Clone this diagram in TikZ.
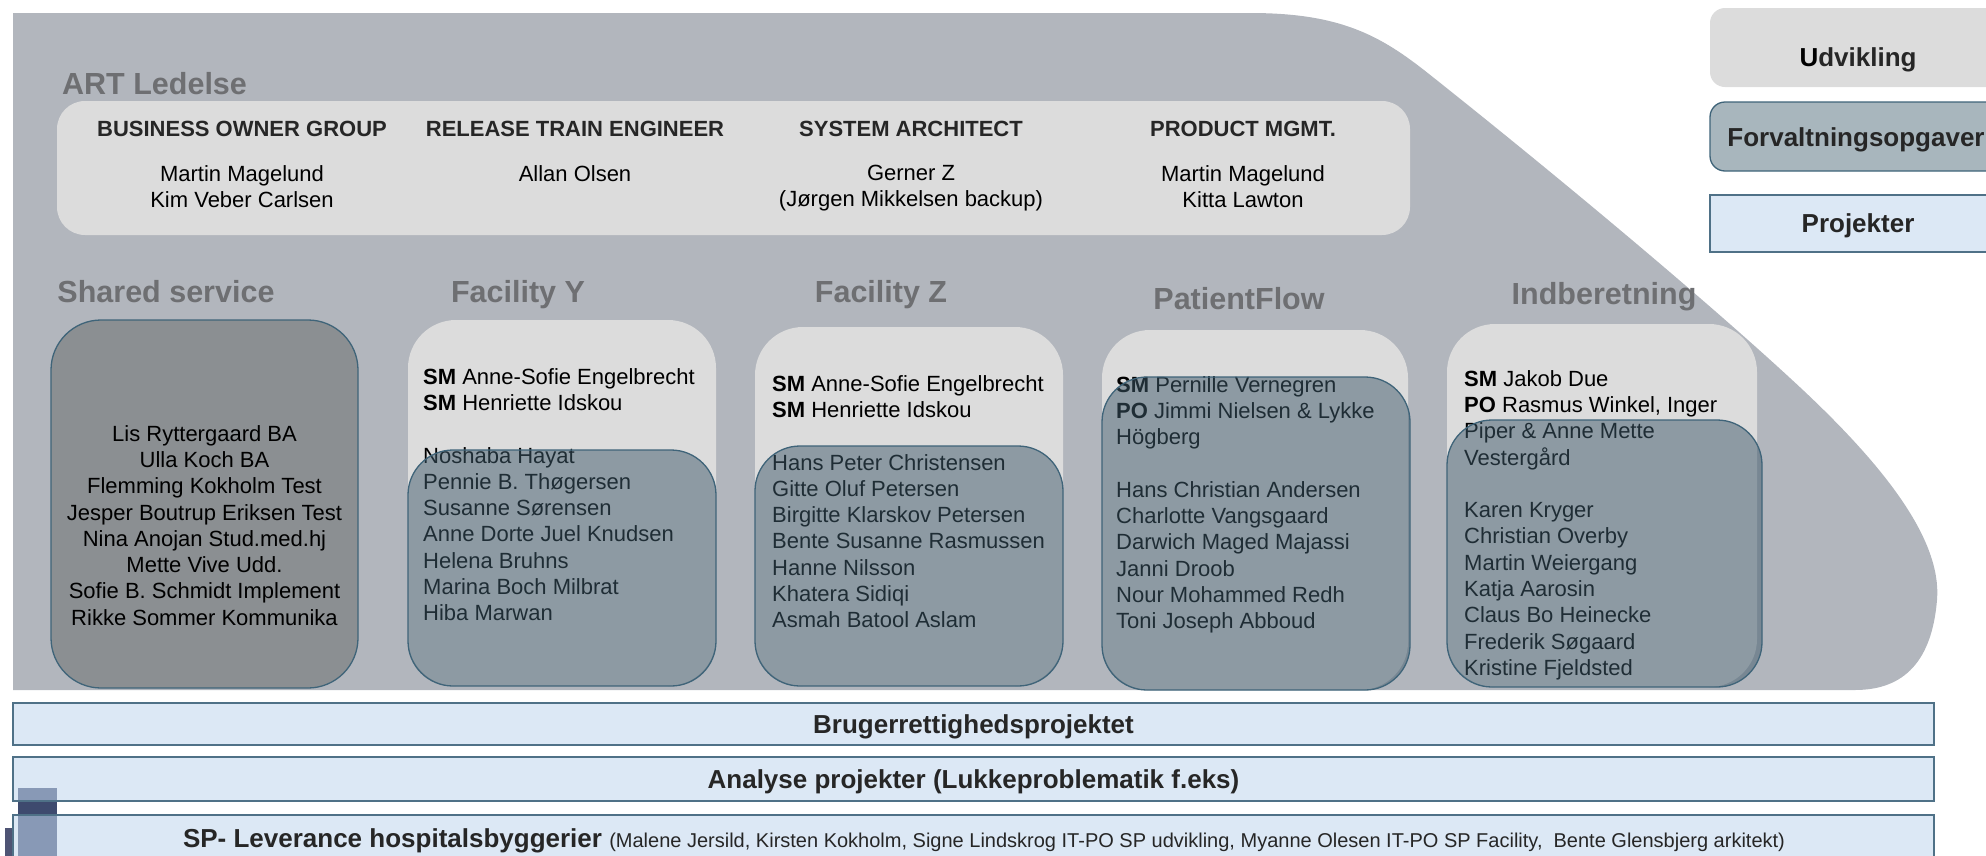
\documentclass[tikz,border=0pt]{standalone}
\usepackage{fontspec}
\setmainfont{Liberation Sans}

\definecolor{train}{HTML}{B2B6BD}
\definecolor{pale}{HTML}{DCDCDC}
\definecolor{team}{HTML}{3F5A6B}
\definecolor{rim}{HTML}{3F6479}
\definecolor{shared}{HTML}{8B8F92}
\definecolor{proj}{HTML}{C1D6ED}
\definecolor{projrim}{HTML}{4F7187}
\definecolor{heading}{HTML}{6E6F72}
\definecolor{navy}{HTML}{3E4A6E}
\definecolor{navytwo}{HTML}{4E5474}
\definecolor{forv}{HTML}{A8B6BD}
\definecolor{legproj}{HTML}{DCE8F5}

\begin{document}
\begin{tikzpicture}[x=1pt, y=-1pt,
  pale box/.style={fill=pale, rounded corners=48pt, inner sep=0pt},
  team box/.style={fill=team, fill opacity=0.5, draw=rim, line width=1.3pt, rounded corners=45pt, inner sep=0pt},
  bar/.style={fill=proj, fill opacity=0.57, draw=projrim, line width=1.3pt, inner sep=0pt, minimum width=1921pt},
  sec/.style={font=\bfseries\fontsize{30.5}{36}\selectfont, text=heading, inner sep=0pt, anchor=base},
  role/.style={font=\bfseries\fontsize{22}{26.3}\selectfont, text=black!85, inner sep=0pt, anchor=base},
  who/.style={font=\fontsize{22}{26.3}\selectfont, align=center, inner sep=0pt, anchor=north},
  crew/.style={font=\fontsize{22}{26.3}\selectfont, align=left, inner sep=0pt, anchor=north west},
  tag/.style={font=\bfseries\fontsize{26}{30}\selectfont, text=black!85, inner sep=0pt, anchor=base}]

\useasboundingbox (0,0) rectangle (1986,855);
\clip (0,0) rectangle (1986,855);

% the train
\fill[train] (13,13) -- (1250,13) .. controls (1340,13) and (1380,35) .. (1429,74)
  .. controls (1550,170) and (1700,295) .. (1790,378)
  .. controls (1885,465) and (1942,540) .. (1937,600)
  .. controls (1932,660) and (1905,690) .. (1855,690) -- (13,690) -- cycle;

% ART Ledelse
\node[sec, anchor=base west] (artT) at (62,94) {ART Ledelse};
\node[fill=pale, rounded corners=28pt, inner sep=0pt, minimum width=1353pt, minimum height=134pt] (art) at (733.5,168) {};
\node[role] (bo) at (242,136) {BUSINESS OWNER GROUP};
\node[role] (rte) at (575,136) {RELEASE TRAIN ENGINEER};
\node[role] (sa) at (911,136) {SYSTEM ARCHITECT};
\node[role] (pm) at (1243,136) {PRODUCT MGMT.};
\node[who] (boN) at (242,165) {Martin Magelund\\Kim Veber Carlsen};
\node[who] (rteN) at (575,165) {Allan Olsen};
\node[who] (saN) at (911,165) {Gerner Z\\(Jørgen Mikkelsen backup)};
\node[who] (pmN) at (1243,165) {Martin Magelund\\Kitta Lawton};

% teams
\node[sec] (ssT) at (166,302) {Shared service};
\node[sec] (fyT) at (518,302) {Facility Y};
\node[sec] (fzT) at (881,302) {Facility Z};
\node[sec] (pfT) at (1239,309) {PatientFlow};
\node[sec] (inT) at (1604,304) {Indberetning};

\node[fill=shared, draw=rim, line width=1.3pt, rounded corners=50pt, inner sep=0pt,
  minimum width=307pt, minimum height=368pt] (ss) at (204.5,504) {};
\node[who] (ssN) at (204.5,425) {Lis Ryttergaard BA\\Ulla Koch BA\\Flemming Kokholm Test\\Jesper Boutrup Eriksen Test\\Nina Anojan Stud.med.hj\\Mette Vive Udd.\\Sofie B. Schmidt Implement\\Rikke Sommer Kommunika};

\node[pale box, minimum width=308pt, minimum height=366pt] (fy) at (562,503) {};
\node[crew] (fyN) at (423,368) {\textbf{SM} Anne-Sofie Engelbrecht\\\textbf{SM} Henriette Idskou\\[26.3pt]Noshaba Hayat\\Pennie B. Thøgersen\\Susanne Sørensen\\Anne Dorte Juel Knudsen\\Helena Bruhns\\Marina Boch Milbrat\\Hiba Marwan};
\node[team box, minimum width=308pt, minimum height=236pt] (fyB) at (562,568) {};

\node[pale box, minimum width=308pt, minimum height=359pt] (fz) at (909,506.5) {};
\node[crew] (fzN) at (772,375) {\textbf{SM} Anne-Sofie Engelbrecht\\\textbf{SM} Henriette Idskou\\[26.3pt]Hans Peter Christensen\\Gitte Oluf Petersen\\Birgitte Klarskov Petersen\\Bente Susanne Rasmussen\\Hanne Nilsson\\Khatera Sidiqi\\Asmah Batool Aslam};
\node[team box, minimum width=308pt, minimum height=240pt] (fzB) at (909,566) {};

\node[pale box, minimum width=306pt, minimum height=360pt] (pf) at (1255,510) {};
\node[crew] (pfN) at (1116,376) {\textbf{SM} Pernille Vernegren\\\textbf{PO} Jimmi Nielsen \& Lykke\\Högberg\\[26.3pt]Hans Christian Andersen\\Charlotte Vangsgaard\\Darwich Maged Majassi\\Janni Droob\\Nour Mohammed Redh\\Toni Joseph Abboud};
\node[team box, minimum width=308pt, minimum height=313pt] (pfB) at (1256,533.5) {};

\node[pale box, minimum width=310pt, minimum height=363pt] (in) at (1602,505.5) {};
\node[crew] (inN) at (1464,370) {\textbf{SM} Jakob Due\\\textbf{PO} Rasmus Winkel, Inger\\Piper \& Anne Mette\\Vestergård\\[26.3pt]Karen Kryger\\Christian Overby\\Martin Weiergang\\Katja Aarosin\\Claus Bo Heinecke\\Frederik Søgaard\\Kristine Fjeldsted};
\node[team box, minimum width=315pt, minimum height=267pt] (inB) at (1604.5,553.5) {};

% legend
\node[fill=pale, rounded corners=15pt, inner sep=0pt, minimum width=300pt, minimum height=79pt] (udv) at (1860,47.5) {};
\node[fill=forv, draw=rim, line width=1.3pt, rounded corners=15pt, inner sep=0pt, minimum width=300pt, minimum height=69pt] (forv) at (1860,136.5) {};
\node[fill=legproj, draw=projrim, line width=1.3pt, inner sep=0pt, minimum width=300pt, minimum height=57pt] (prj) at (1860,223.5) {};
\node[tag] (udvT) at (1858,66) {{\color{black}U}dvikling};
\node[tag] (forvT) at (1856,146) {Forvaltningsopgaver};
\node[tag] (prjT) at (1858,232) {Projekter};

% projects
\fill[navy] (18,788) rectangle (57,870);
\fill[navytwo] (5,828) rectangle (14,870);
\node[bar, minimum height=42pt] (bruger) at (973.5,724) {};
\node[bar, minimum height=44pt] (analyse) at (973.5,779) {};
\node[bar, minimum height=56pt] (sp) at (973.5,843) {};
\node[tag] (brugerT) at (973.5,733.5) {Brugerrettighedsprojektet};
\node[tag] (analyseT) at (973.5,788) {Analyse projekter (Lukkeproblematik f.eks)};
\node[tag] (spT) at (984,847) {SP- Leverance hospitalsbyggerier {\mdseries\fontsize{20}{24}\selectfont (Malene Jersild, Kirsten Kokholm, Signe Lindskrog IT-PO SP udvikling, Myanne Olesen IT-PO SP Facility,\ \ Bente Glensbjerg arkitekt)}};
\end{tikzpicture}
\end{document}
